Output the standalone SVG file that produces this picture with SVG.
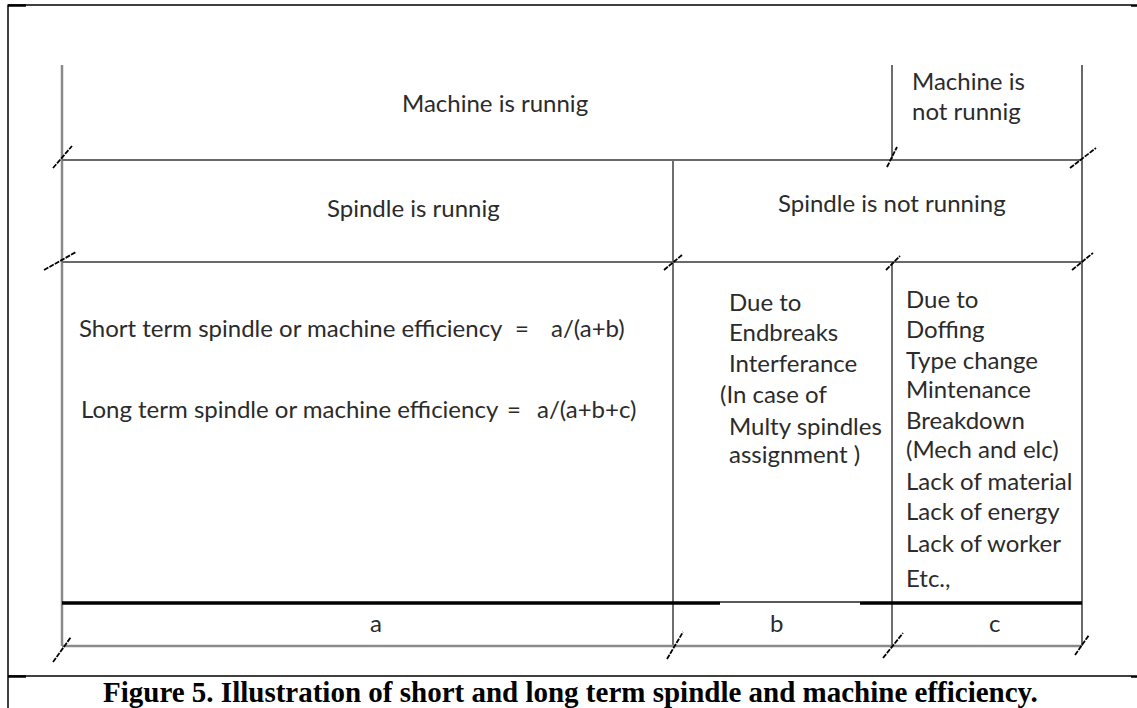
<svg xmlns="http://www.w3.org/2000/svg" width="1137" height="708" viewBox="0 0 1137 708">
<style>
.t{font-family:Lato,"Noto Sans",sans-serif;font-size:24px;fill:#2b2b2b}
.cap{font-family:"Liberation Serif","Times New Roman",serif;font-size:29px;font-weight:bold;fill:#000}
.frame{stroke:#000;stroke-width:1.5;fill:none}
.g1{stroke:#8a8a8a;stroke-width:2.5;fill:none}
.g2{stroke:#6a6a6a;stroke-width:2;fill:none}
.d{stroke:#4a4a4a;stroke-width:1.6;fill:none}
.thick{stroke:#000;stroke-width:3.5;fill:none}
.tk{stroke:#000;stroke-width:1.8;stroke-dasharray:5 1.2;fill:none}
</style>
<rect width="1137" height="708" fill="#fff"/>
<g id="frame">
<line class="frame" x1="8" y1="5" x2="1131" y2="5"/>
<line class="frame" x1="8" y1="4.5" x2="8" y2="708"/>
<line class="frame" x1="8" y1="676" x2="1131" y2="676"/>
<line stroke="#000" stroke-width="2.5" x1="8" y1="5.5" x2="26" y2="5.5"/>
<line stroke="#000" stroke-width="2.5" x1="1131" y1="5.5" x2="1137" y2="5.5"/>
<line stroke="#000" stroke-width="2.5" x1="8" y1="676.5" x2="26" y2="676.5"/>
<line stroke="#000" stroke-width="2.5" x1="1131" y1="676.5" x2="1137" y2="676.5"/>
</g>
<g id="connectors">
<line class="g1" x1="62" y1="65" x2="62" y2="646"/>
<line class="g2" x1="1082" y1="65" x2="1082" y2="646"/>
<line class="d" x1="892" y1="65" x2="892" y2="160"/>
<line class="d" x1="892" y1="262" x2="892" y2="646"/>
<line class="d" x1="673" y1="160" x2="673" y2="646"/>
<line class="g2" x1="62" y1="160" x2="1082" y2="160"/>
<line class="g2" x1="62" y1="262" x2="1082" y2="262"/>
<line class="g1" x1="62" y1="646" x2="1082" y2="646"/>
<line class="thick" x1="62" y1="603" x2="720" y2="603"/>
<line class="thick" x1="860" y1="603" x2="1082" y2="603"/>
<line stroke="#222" stroke-width="1.6" x1="720" y1="602" x2="860" y2="602"/>
<line class="tk" x1="53" y1="168" x2="72" y2="146"/>
<line class="tk" x1="44" y1="270" x2="76" y2="252"/>
<line class="tk" x1="53" y1="662" x2="71" y2="637"/>
<line class="tk" x1="664" y1="270" x2="682" y2="255"/>
<line class="tk" x1="667" y1="659" x2="683" y2="632"/>
<line class="tk" x1="887" y1="167" x2="897" y2="147"/>
<line class="tk" x1="886" y1="270" x2="900" y2="256"/>
<line class="tk" x1="883" y1="658" x2="903" y2="633"/>
<line class="tk" x1="1070" y1="168" x2="1096" y2="148"/>
<line class="tk" x1="1072" y1="270" x2="1093" y2="253"/>
<line class="tk" x1="1075" y1="655" x2="1089" y2="635"/>
</g>
<g id="machine-running"><text class="t" x="402" y="112">Machine is runnig</text></g>
<g id="machine-not-running"><text class="t" x="912" y="90">Machine is</text><text class="t" x="912" y="120">not runnig</text></g>
<g id="spindle-running"><text class="t" x="327" y="217">Spindle is runnig</text></g>
<g id="spindle-not-running"><text class="t" x="778" y="212">Spindle is not running</text></g>
<g id="efficiency">
<text class="t" x="79" y="337">Short term  spindle or machine efficiency</text>
<text class="t" x="515" y="337">=</text>
<text class="t" x="551" y="337">a/(a+b)</text>
<text class="t" x="81" y="418">Long term spindle or machine efficiency</text>
<text class="t" x="507" y="418">=</text>
<text class="t" x="537" y="418">a/(a+b+c)</text>
</g>
<g id="cause-b">
<text class="t" x="729" y="311">Due to</text>
<text class="t" x="729" y="341">Endbreaks</text>
<text class="t" x="729" y="372">Interferance</text>
<text class="t" x="720" y="403">(In case of</text>
<text class="t" x="729" y="435">Multy spindles</text>
<text class="t" x="729" y="463">assignment  )</text>
</g>
<g id="cause-c">
<text class="t" x="906" y="308">Due to</text>
<text class="t" x="906" y="338">Doffing</text>
<text class="t" x="906" y="369">Type change</text>
<text class="t" x="906" y="398">Mintenance</text>
<text class="t" x="906" y="429">Breakdown</text>
<text class="t" x="906" y="458">(Mech and elc)</text>
<text class="t" x="906" y="490">Lack of material</text>
<text class="t" x="906" y="520">Lack of energy</text>
<text class="t" x="906" y="552">Lack of worker</text>
<text class="t" x="906" y="587">Etc.,</text>
</g>
<g id="label-a"><text class="t" x="370" y="632">a</text></g>
<g id="label-b"><text class="t" x="770" y="632">b</text></g>
<g id="label-c"><text class="t" x="989" y="632">c</text></g>
<g id="caption"><text class="cap" x="103" y="702">Figure 5. Illustration of short and long term spindle and machine efficiency.</text></g>
</svg>
